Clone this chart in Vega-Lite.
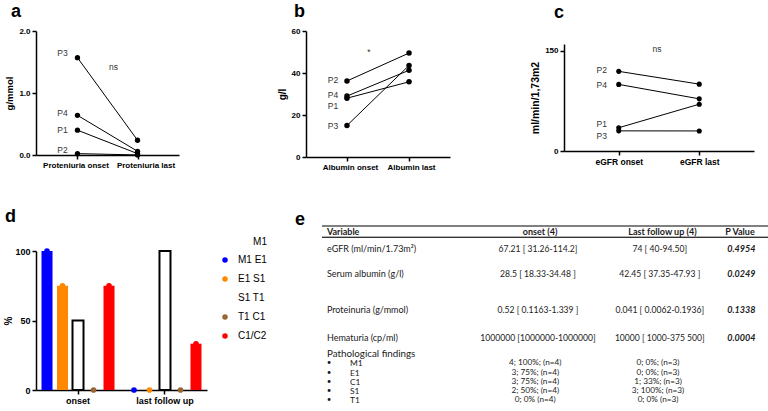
{
  "$schema": "https://vega.github.io/schema/vega-lite/v6.json",
  "padding": {"left": 3, "top": 3, "right": 0, "bottom": 0},
  "background": "white",
  "bounds": "flush",
  "resolve": {"scale": {"color": "independent"}, "legend": {"color": "independent"}},
  "config": {
    "view": {"stroke": null},
    "font": "Liberation Sans",
    "axis": {"grid": false, "domainColor": "black", "domainWidth": 1.5, "tickColor": "black", "tickWidth": 1.5, "tickSize": 4,
      "labelFont": "Liberation Sans", "labelFontWeight": "bold", "labelFontSize": 8, "labelColor": "black", "labelPadding": 2,
      "titleFont": "Liberation Sans", "titleFontWeight": "bold", "titleFontSize": 10, "titleColor": "black", "titlePadding": 4},
    "title": {"font": "Liberation Sans", "fontSize": 18, "fontWeight": "bold", "anchor": "start", "color": "black", "frame": "group"}
  },
  "datasets": {
    "prot": [
      {"patient": "P1", "time": "Proteniuria onset", "value": 0.40, "labelAt": 0.40},
      {"patient": "P1", "time": "Proteniuria last", "value": 0.022},
      {"patient": "P2", "time": "Proteniuria onset", "value": 0.022, "labelAt": 0.08},
      {"patient": "P2", "time": "Proteniuria last", "value": 0.001},
      {"patient": "P3", "time": "Proteniuria onset", "value": 1.57, "labelAt": 1.64},
      {"patient": "P3", "time": "Proteniuria last", "value": 0.238},
      {"patient": "P4", "time": "Proteniuria onset", "value": 0.64, "labelAt": 0.68},
      {"patient": "P4", "time": "Proteniuria last", "value": 0.06}
    ],
    "alb": [
      {"patient": "P1", "time": "Albumin onset", "value": 28.0, "labelAt": 24.2},
      {"patient": "P1", "time": "Albumin last", "value": 35.8},
      {"patient": "P2", "time": "Albumin onset", "value": 36.2, "labelAt": 36.6},
      {"patient": "P2", "time": "Albumin last", "value": 49.5},
      {"patient": "P3", "time": "Albumin onset", "value": 15.0, "labelAt": 14.7},
      {"patient": "P3", "time": "Albumin last", "value": 43.6},
      {"patient": "P4", "time": "Albumin onset", "value": 29.0, "labelAt": 29.3},
      {"patient": "P4", "time": "Albumin last", "value": 41.3}
    ],
    "egfr": [
      {"patient": "P1", "time": "eGFR onset", "value": 34.8, "labelAt": 41},
      {"patient": "P1", "time": "eGFR last", "value": 70},
      {"patient": "P2", "time": "eGFR onset", "value": 119.1, "labelAt": 121.5},
      {"patient": "P2", "time": "eGFR last", "value": 100},
      {"patient": "P3", "time": "eGFR onset", "value": 30.1, "labelAt": 22.4},
      {"patient": "P3", "time": "eGFR last", "value": 30},
      {"patient": "P4", "time": "eGFR onset", "value": 99.6, "labelAt": 99},
      {"patient": "P4", "time": "eGFR last", "value": 78}
    ],
    "path": [
      {"time": "onset", "cat": "M1", "pct": 100},
      {"time": "onset", "cat": "E1", "pct": 75},
      {"time": "onset", "cat": "S1", "pct": 50},
      {"time": "onset", "cat": "T1", "pct": 0},
      {"time": "onset", "cat": "C1/C2", "pct": 75},
      {"time": "last follow up", "cat": "M1", "pct": 0},
      {"time": "last follow up", "cat": "E1", "pct": 0},
      {"time": "last follow up", "cat": "S1", "pct": 100},
      {"time": "last follow up", "cat": "T1", "pct": 0},
      {"time": "last follow up", "cat": "C1/C2", "pct": 33.3}
    ],
    "table": [
      {"line": 0, "kind": "header", "var": "Variable", "onset": "onset (4)", "last": "Last follow up  (4)", "p": "P Value"},
      {"line": 1.83, "kind": "row", "var": "eGFR (ml/min/1.73m²)", "onset": "67.21 [ 31.26-114.2]", "last": "74 [ 40-94.50]", "p": "0.4954"},
      {"line": 4.42, "kind": "row", "var": "Serum albumin (g/l)", "onset": "28.5 [ 18.33-34.48 ]", "last": "42.45 [ 37.35-47.93 ]", "p": "0.0249"},
      {"line": 8.29, "kind": "row", "var": "Proteinuria (g/mmol)", "onset": "0.52 [ 0.1163-1.339 ]", "last": "0.041 [ 0.0062-0.1936]", "p": "0.1338"},
      {"line": 11.3, "kind": "row", "var": "Hematuria (cp/ml)", "onset": "1000000 [1000000-1000000]", "last": "10000 [ 1000-375 500]", "p": "0.0004"},
      {"line": 13.0, "kind": "section", "var": "Pathological findings", "onset": "", "last": "", "p": ""},
      {"line": 14.05, "kind": "item", "var": "M1", "onset": "4; 100%; (n=4)", "last": "0; 0%; (n=3)", "p": ""},
      {"line": 15.04, "kind": "item", "var": "E1", "onset": "3; 75%; (n=4)", "last": "0; 0%; (n=3)", "p": ""},
      {"line": 16, "kind": "item", "var": "C1", "onset": "3; 75%; (n=4)", "last": "1; 33%; (n=3)", "p": ""},
      {"line": 17, "kind": "item", "var": "S1", "onset": "2; 50%; (n=4)", "last": "3; 100%; (n=3)", "p": ""},
      {"line": 18, "kind": "item", "var": "T1", "onset": "0; 0%  (n=4)", "last": "0; 0%  (n=3)", "p": ""}
    ]
  },
  "vconcat": [
    {
      "bounds": "flush",
      "hconcat": [
        {
          "title": {"text": "a", "dx": -25, "offset": 6},
          "width": 143, "height": 124,
          "data": {"name": "prot"},
          "layer": [
            {"mark": {"type": "line", "color": "black", "strokeWidth": 1},
             "encoding": {
               "x": {"field": "time", "type": "nominal", "sort": ["Proteniuria onset", "Proteniuria last"], "scale": {"type": "point", "padding": 0.69},
                 "axis": {"title": null, "labelAngle": 0, "labelOffset": {"condition": {"test": "datum.value === 'Proteniuria last'", "value": 8}, "value": -2}}},
               "y": {"field": "value", "type": "quantitative", "scale": {"domain": [0, 2]}, "axis": {"values": [0, 0.5, 1, 1.5, 2], "format": ".1f", "title": "g/mmol", "titleFontSize": 9.5}},
               "detail": {"field": "patient"}}},
            {"mark": {"type": "point", "filled": true, "color": "black", "size": 28, "opacity": 1},
             "encoding": {
               "x": {"field": "time", "type": "nominal", "sort": ["Proteniuria onset", "Proteniuria last"]},
               "y": {"field": "value", "type": "quantitative"}}},
            {"transform": [{"filter": "datum.time === 'Proteniuria onset'"}],
             "mark": {"type": "text", "fontSize": 8.5, "dx": -15, "color": "#333"},
             "encoding": {
               "x": {"field": "time", "type": "nominal", "sort": ["Proteniuria onset", "Proteniuria last"]},
               "y": {"field": "labelAt", "type": "quantitative"},
               "text": {"field": "patient"}}},
            {"data": {"values": [{"note": "ns"}]},
             "mark": {"type": "text", "fontSize": 8.5, "dx": 6, "color": "#333"},
             "encoding": {"y": {"datum": 1.42}, "text": {"field": "note"}}}
          ]
        },
        {
          "bounds": "flush",
          "hconcat": [
            {
              "title": {"text": "b", "dx": -12, "offset": 6},
              "width": 144, "height": 126,
              "data": {"name": "alb"},
              "layer": [
                {"mark": {"type": "line", "color": "black", "strokeWidth": 1},
                 "encoding": {
                   "x": {"field": "time", "type": "nominal", "sort": ["Albumin onset", "Albumin last"], "scale": {"type": "point", "padding": 0.66},
                     "axis": {"title": null, "labelAngle": 0, "labelOffset": {"condition": {"test": "datum.value === 'Albumin last'", "value": 2}, "value": 3}}},
                   "y": {"field": "value", "type": "quantitative", "scale": {"domain": [0, 60]}, "axis": {"values": [0, 20, 40, 60], "title": "g/l"}},
                   "detail": {"field": "patient"}}},
                {"mark": {"type": "point", "filled": true, "color": "black", "size": 30, "opacity": 1},
                 "encoding": {
                   "x": {"field": "time", "type": "nominal", "sort": ["Albumin onset", "Albumin last"]},
                   "y": {"field": "value", "type": "quantitative"}}},
                {"transform": [{"filter": "datum.time === 'Albumin onset'"}],
                 "mark": {"type": "text", "fontSize": 8.5, "dx": -14, "color": "#333"},
                 "encoding": {
                   "x": {"field": "time", "type": "nominal", "sort": ["Albumin onset", "Albumin last"]},
                   "y": {"field": "labelAt", "type": "quantitative"},
                   "text": {"field": "patient"}}},
                {"data": {"values": [{"note": "*"}]},
                 "mark": {"type": "text", "fontSize": 8.5, "dx": -9, "color": "#333"},
                 "encoding": {"y": {"datum": 50}, "text": {"field": "note"}}}
              ]
            },
            {
              "bounds": "flush",
              "vconcat": [
                {"width": 190, "height": 1, "data": {"values": []}, "mark": "point"},
                {
                  "title": {"text": "c", "dx": -10, "offset": 22},
                  "width": 190, "height": 107,
                  "data": {"name": "egfr"},
                  "layer": [
                    {"mark": {"type": "line", "color": "black", "strokeWidth": 1},
                     "encoding": {
                       "x": {"field": "time", "type": "nominal", "sort": ["eGFR onset", "eGFR last"], "scale": {"type": "point", "padding": 0.68}, "axis": {"title": null, "labelAngle": 0, "labelFontSize": 8.5}},
                       "y": {"field": "value", "type": "quantitative", "scale": {"domain": [0, 150]}, "axis": {"values": [0, 50, 100, 150], "title": "ml/min/1,73m2", "titleFontSize": 10.5}},
                       "detail": {"field": "patient"}}},
                    {"mark": {"type": "point", "filled": true, "color": "black", "size": 26, "opacity": 1},
                     "encoding": {
                       "x": {"field": "time", "type": "nominal", "sort": ["eGFR onset", "eGFR last"]},
                       "y": {"field": "value", "type": "quantitative"}}},
                    {"transform": [{"filter": "datum.time === 'eGFR onset'"}],
                     "mark": {"type": "text", "fontSize": 8.5, "dx": -17, "color": "#333"},
                     "encoding": {
                       "x": {"field": "time", "type": "nominal", "sort": ["eGFR onset", "eGFR last"]},
                       "y": {"field": "labelAt", "type": "quantitative"},
                       "text": {"field": "patient"}}},
                    {"data": {"values": [{"note": "ns"}]},
                     "mark": {"type": "text", "fontSize": 8.5, "dx": -2, "color": "#333"},
                     "encoding": {"y": {"datum": 153}, "text": {"field": "note"}}}
                  ]
                }
              ],
              "spacing": 12
            }
          ],
          "spacing": 114
        }
      ],
      "spacing": 127
    },
    {
      "bounds": "flush",
      "resolve": {"scale": {"color": "independent"}, "legend": {"color": "independent"}},
      "hconcat": [
        {
          "title": {"text": "d", "dx": -31, "offset": 11},
          "width": 171, "height": 139,
          "data": {"name": "path"},
          "encoding": {
            "x": {"field": "time", "type": "nominal", "sort": ["onset", "last follow up"], "scale": {"paddingInner": 0.034, "paddingOuter": 0}, "axis": {"title": null, "labelAngle": 0, "labelFontSize": 9}},
            "xOffset": {"field": "cat", "type": "nominal", "sort": ["M1", "E1", "S1", "T1", "C1/C2"], "scale": {"paddingInner": 0.29, "paddingOuter": 0.355}},
            "y": {"field": "pct", "type": "quantitative", "scale": {"domain": [0, 100]}, "axis": {"values": [0, 50, 100], "title": "%", "titleFontSize": 10, "titlePadding": 1, "labelFontSize": 9}},
            "color": {"field": "cat", "type": "nominal",
              "scale": {"domain": ["M1", "E1", "S1", "T1", "C1/C2"], "range": ["#0000ff", "#ff8800", "#ffffff", "#996633", "#ff0000"]},
              "legend": {"orient": "none", "legendX": 184, "legendY": -14, "title": "M1", "titleAnchor": "end", "titleFontSize": 10, "titleFontWeight": "normal", "titleFont": "Liberation Sans", "titleColor": "black", "titlePadding": 8,
                "labelFontSize": 10, "labelFont": "Liberation Sans", "labelColor": "black", "labelOffset": 8, "symbolType": "circle", "symbolSize": 30, "symbolStrokeWidth": 0, "rowPadding": 9, "padding": 0,
                "labelExpr": "datum.label === 'M1' ? 'M1 E1' : datum.label === 'E1' ? 'E1 S1' : datum.label === 'S1' ? 'S1 T1' : datum.label === 'T1' ? 'T1 C1' : datum.label"}}
          },
          "layer": [
            {"mark": {"type": "bar", "strokeWidth": 2},
             "encoding": {"stroke": {"condition": {"test": "datum.cat === 'S1'", "value": "black"}, "value": "transparent"}}},
            {"transform": [{"filter": "datum.cat !== 'S1'"}],
             "mark": {"type": "point", "filled": true, "size": 32, "opacity": 1}}
          ]
        },
        {
          "title": {"text": "e", "dx": -27, "offset": -4},
          "width": 448, "height": 168,
          "data": {"name": "table"},
          "layer": [
            {"mark": {"type": "rule", "color": "#808080", "strokeWidth": 1.8},
             "encoding": {"x": {"datum": 0, "type": "quantitative", "scale": {"domain": [0, 100]}, "axis": null}, "x2": {"datum": 100}, "y": {"datum": -0.7, "type": "quantitative", "scale": {"domain": [2.21, 18.95], "reverse": true}, "axis": null}}},
            {"mark": {"type": "rule", "color": "#333333", "strokeWidth": 0.8},
             "encoding": {"x": {"datum": 0, "type": "quantitative"}, "x2": {"datum": 100}, "y": {"datum": 0.55, "type": "quantitative"}}},
            {"transform": [{"filter": "datum.kind === 'header'"}],
             "mark": {"type": "text", "font": "Lato", "fontSize": 9, "fontWeight": "bold", "align": "left", "color": "#1a1a1a"},
             "encoding": {"x": {"datum": 1.1, "type": "quantitative"}, "y": {"field": "line", "type": "quantitative"}, "text": {"field": "var"}}},
            {"transform": [{"filter": "datum.kind === 'row'"}],
             "mark": {"type": "text", "font": "Lato", "fontSize": 9, "align": "left", "color": "#1a1a1a"},
             "encoding": {"x": {"datum": 1.1, "type": "quantitative"}, "y": {"field": "line", "type": "quantitative"}, "text": {"field": "var"}}},
            {"transform": [{"filter": "datum.kind === 'section'"}],
             "mark": {"type": "text", "font": "Lato", "fontSize": 9.8, "align": "left", "color": "#1a1a1a"},
             "encoding": {"x": {"datum": 1.1, "type": "quantitative"}, "y": {"field": "line", "type": "quantitative"}, "text": {"field": "var"}}},
            {"transform": [{"filter": "datum.kind === 'item'"}],
             "mark": {"type": "text", "font": "Lato", "fontSize": 8, "align": "center", "color": "#1a1a1a", "text": "•"},
             "encoding": {"x": {"datum": 1.6, "type": "quantitative"}, "y": {"field": "line", "type": "quantitative"}}},
            {"transform": [{"filter": "datum.kind === 'item'"}],
             "mark": {"type": "text", "font": "Lato", "fontSize": 8.4, "align": "left", "color": "#1a1a1a"},
             "encoding": {"x": {"datum": 6.25, "type": "quantitative"}, "y": {"field": "line", "type": "quantitative"}, "text": {"field": "var"}}},
            {"transform": [{"filter": "datum.kind === 'header'"}],
             "mark": {"type": "text", "font": "Lato", "fontSize": 9, "fontWeight": "bold", "align": "center", "color": "#1a1a1a"},
             "encoding": {"x": {"datum": 48.7, "type": "quantitative"}, "y": {"field": "line", "type": "quantitative"}, "text": {"field": "onset"}}},
            {"transform": [{"filter": "datum.kind === 'row'"}],
             "mark": {"type": "text", "font": "Lato", "fontSize": 8.6, "align": "center", "color": "#1a1a1a"},
             "encoding": {"x": {"datum": 48.2, "type": "quantitative"}, "y": {"field": "line", "type": "quantitative"}, "text": {"field": "onset"}}},
            {"transform": [{"filter": "datum.kind === 'item'"}],
             "mark": {"type": "text", "font": "Lato", "fontSize": 8.2, "align": "center", "color": "#1a1a1a"},
             "encoding": {"x": {"datum": 47.6, "type": "quantitative"}, "y": {"field": "line", "type": "quantitative"}, "text": {"field": "onset"}}},
            {"transform": [{"filter": "datum.kind === 'header'"}],
             "mark": {"type": "text", "font": "Lato", "fontSize": 9, "fontWeight": "bold", "align": "center", "color": "#1a1a1a"},
             "encoding": {"x": {"datum": 76, "type": "quantitative"}, "y": {"field": "line", "type": "quantitative"}, "text": {"field": "last"}}},
            {"transform": [{"filter": "datum.kind === 'row'"}],
             "mark": {"type": "text", "font": "Lato", "fontSize": 8.6, "align": "center", "color": "#1a1a1a"},
             "encoding": {"x": {"datum": 75.4, "type": "quantitative"}, "y": {"field": "line", "type": "quantitative"}, "text": {"field": "last"}}},
            {"transform": [{"filter": "datum.kind === 'item'"}],
             "mark": {"type": "text", "font": "Lato", "fontSize": 8.2, "align": "center", "color": "#1a1a1a"},
             "encoding": {"x": {"datum": 75.0, "type": "quantitative"}, "y": {"field": "line", "type": "quantitative"}, "text": {"field": "last"}}},
            {"transform": [{"filter": "datum.kind === 'header'"}],
             "mark": {"type": "text", "font": "Lato", "fontSize": 9, "fontWeight": "bold", "align": "center", "color": "#1a1a1a"},
             "encoding": {"x": {"datum": 93.3, "type": "quantitative"}, "y": {"field": "line", "type": "quantitative"}, "text": {"field": "p"}}},
            {"transform": [{"filter": "datum.kind === 'row'"}],
             "mark": {"type": "text", "font": "Lato", "fontSize": 9, "fontWeight": "bold", "fontStyle": "italic", "align": "center", "color": "#1a1a1a"},
             "encoding": {"x": {"datum": 93.6, "type": "quantitative"}, "y": {"field": "line", "type": "quantitative"}, "text": {"field": "p"}}}
          ]
        }
      ],
      "spacing": 115
    }
  ],
  "spacing": 220
}
